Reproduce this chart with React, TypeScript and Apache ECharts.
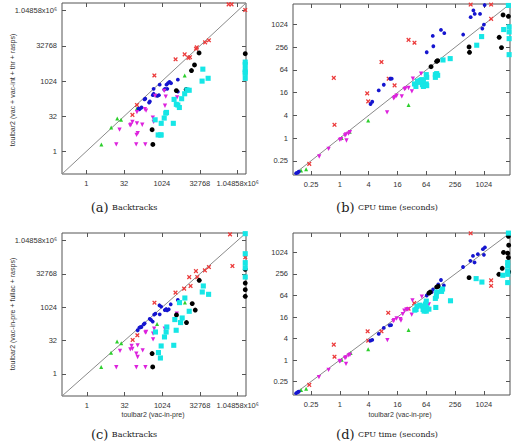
import React, { useEffect, useRef } from "react";
import * as echarts from "echarts";

// All values are log2 of the measured quantity (backtracks or CPU seconds), [x, y]
// Panel (a): backtracks, toulbar2 (vac-in-pre) vs (vac + vac-int + thr + rasps)
const aRed = [[18.8,20.9],[19.2,20.9],[21.0,20.1],[15.7,15.5],[16.2,15.8],[14.6,14.8],[14.5,14.6],[13.7,13.4],[13.5,13.3],[13.0,13.8],[11.8,13.1],[9.0,10.8],[6.7,6.6],[6.1,5.2]];
const aGreen = [[2.0,1.0],[3.3,3.4],[4.1,4.7],[4.6,4.5],[6.7,6.1],[9.3,8.0],[13.0,10.8]];
const aBlue = [[9.7,9.5],[8.9,8.9],[10.6,9.5],[10.8,9.7],[11.0,9.9],[11.2,9.7],[10.4,8.9],[10.3,8.8],[12.1,10.2],[8.9,8.2],[8.8,8.0],[9.6,8.0],[9.4,7.9],[12.1,8.5],[7.8,7.5],[7.7,7.4],[8.4,7.1],[8.3,6.95],[7.1,6.1],[7.0,6.0],[7.3,6.25],[10.7,8.9],[6.9,6.1]];
const aMagenta = [[7.75,6.0],[7.9,5.8],[8.8,4.8],[8.9,4.2],[10.3,8.6],[10.5,7.8],[10.4,6.5],[12.0,7.7],[6.7,4.0],[6.1,4.2],[5.9,3.8],[5.8,3.7],[4.4,3.1],[3.97,1.0],[6.6,1.0],[7.8,1.0],[6.65,2.35],[6.8,2.6],[7.4,3.8],[6.7,5.6],[9.1,7.9]];
const aBlack = [[14.9,14.0],[14.3,12.3],[13.9,11.5],[21.0,13.9],[11.9,8.65],[13.2,8.8],[8.7,3.1],[8.8,1.0]];
const aCyan = [[15.4,11.7],[15.3,10.0],[16.1,10.4],[21.0,12.7],[21.0,12.35],[21.0,11.65],[21.0,11.3],[21.0,11.1],[21.0,10.4],[13.6,8.7],[13.3,8.75],[13.0,8.2],[12.6,7.5],[11.6,7.4],[11.9,6.7],[12.1,6.6],[12.3,6.25],[10.6,5.55],[10.5,5.45],[10.3,4.75],[9.1,4.5],[9.9,4.0],[11.5,4.0],[9.5,2.35],[9.8,2.35],[9.9,2.35]];

// Panel (b): CPU time (seconds)
const bRed = [[9.08,11.76],[10.5,11.76],[10.5,10.5],[4.77,8.65],[5.18,8.4],[2.89,6.7],[-0.42,5.3],[-0.37,1.17],[1.9,3.94],[1.97,3.23],[3.39,5.23],[3.8,4.64],[-2.12,-2.27]];
const bGreen = [[-2.34,-2.74],[-2.69,-2.86],[0.13,0.0],[0.69,0.56],[1.97,1.55],[4.77,2.91]];
const bBlue = [[-3.03,-3.09],[-2.92,-3.04],[-2.85,-2.95],[2.13,3.0],[2.25,3.2],[2.7,4.2],[3.05,4.7],[3.5,5.23],[3.6,5.23],[6.03,7.56],[6.45,9.0],[6.49,8.09],[7.02,9.53],[7.25,9.24],[8.56,9.12],[9.08,10.65],[9.27,11.24],[9.36,10.94],[9.73,10.94],[10.05,11.72],[9.89,9.65],[10.0,10.0]];
const bMagenta = [[-1.43,-1.62],[-0.78,-0.95],[0.0,-0.15],[0.09,-0.09],[0.36,0.23],[0.43,0.32],[0.46,-0.21],[0.6,0.4],[0.7,0.53],[3.28,2.26],[3.74,3.5],[3.81,3.6],[3.94,3.73],[4.3,3.67],[4.49,4.32],[4.56,4.38],[4.77,4.41],[5.0,4.12],[5.07,5.23],[5.64,5.68]];
const bBlack = [[6.79,6.82],[6.72,6.76],[6.33,6.29],[8.97,8.03],[9.0,7.56],[11.06,8.88],[11.22,7.97],[11.33,10.85],[11.7,10.73]];
const bCyan = [[7.66,7.0],[7.16,6.88],[9.5,8.18],[9.84,8.94],[11.37,9.56],[11.75,9.8],[11.75,9.35],[11.75,8.76],[11.75,7.35],[11.7,11.68],[6.63,5.59],[6.72,5.68],[6.79,5.53],[6.63,5.35],[6.0,5.59],[6.03,5.35],[6.0,4.77],[6.03,4.62],[5.57,5.08],[5.69,5.15],[5.8,5.06],[5.39,5.0],[5.46,4.91],[5.18,4.77],[5.28,4.55],[5.73,4.7],[5.8,4.55]];

// Panel (c): backtracks, toulbar2 (vac-in-pre) vs (vac-in-pre + fullac + rasps)
const cRed = [[18.98,20.9],[19.3,16.16],[21.0,17.46],[16.18,16.0],[15.65,15.5],[14.46,15.4],[14.64,14.5],[13.57,14.5],[13.75,13.17],[12.9,12.77],[11.75,12.17],[8.96,10.67],[6.69,5.79],[6.07,5.09]];
const cGreen = [[1.9,1.05],[3.21,3.17],[4.0,4.87],[4.56,4.59],[9.31,7.48],[13.0,10.7]];
const cBlue = [[9.62,10.28],[9.85,10.08],[10.33,9.57],[10.51,9.72],[10.65,9.53],[10.86,9.68],[11.12,10.43],[12.06,11.07],[9.09,9.03],[8.92,8.89],[8.33,8.23],[8.51,8.08],[8.73,7.84],[7.66,7.58],[7.53,7.43],[7.09,6.99],[6.96,6.94],[7.23,7.03],[6.73,6.54],[9.66,8.93]];
const cMagenta = [[7.76,6.19],[7.85,6.28],[8.92,6.79],[8.78,6.04],[8.78,5.19],[10.33,6.79],[10.46,6.19],[11.92,9.03],[6.73,4.29],[5.93,4.19],[5.76,3.69],[6.03,3.74],[4.39,3.44],[3.9,1.0],[6.56,1.0],[7.76,1.0],[6.56,3.05],[6.73,2.54],[7.4,3.54]];
const cBlack = [[14.9,14.02],[13.97,10.53],[14.37,9.57],[11.88,8.83],[13.21,7.69],[8.65,3.05],[8.73,1.05],[21.0,15.66],[21.0,13.61],[21.0,12.62],[21.0,11.62]];
const cCyan = [[21.0,21.0],[21.0,18.0],[21.0,16.66],[21.0,15.9],[21.0,14.51],[15.44,13.17],[15.3,12.27],[16.14,11.92],[12.99,11.37],[12.28,10.68],[13.57,9.38],[12.64,8.38],[11.66,8.14],[12.42,7.69],[10.6,7.03],[10.51,6.28],[11.84,6.54],[9.09,6.28],[10.29,5.54],[9.85,4.19],[11.52,4.29],[9.49,3.2],[9.75,2.39]];

// Panel (d): CPU time (seconds)
const dRed = [[9.08,11.78],[10.5,7.41],[10.5,6.9],[5.16,5.29],[4.77,4.77],[3.36,4.39],[2.89,2.67],[1.93,2.67],[1.97,1.8],[-0.42,1.43],[-0.37,0.31],[-2.12,-2.31]];
const dGreen = [[-2.34,-2.68],[-2.69,-2.78],[0.13,0.03],[0.75,0.65],[1.97,1.0],[4.77,2.8]];
const dBlue = [[-3.03,-3.08],[-2.92,-2.99],[-2.85,-2.93],[2.13,1.8],[2.25,1.87],[2.7,2.43],[3.05,2.99],[3.46,3.23],[3.56,3.25],[6.03,6.0],[6.38,6.32],[6.47,6.57],[6.83,7.04],[7.02,7.44],[7.22,6.94],[8.55,8.65],[9.06,9.22],[9.24,9.68],[9.35,9.07],[9.58,9.84],[9.93,10.31],[10.07,10.47],[10.0,9.78]];
const dMagenta = [[-1.45,-1.59],[-0.78,-0.91],[-0.02,-0.13],[0.05,-0.07],[0.36,0.19],[0.43,0.24],[0.43,-0.35],[0.62,0.43],[0.71,0.5],[3.3,1.85],[3.71,3.61],[3.76,3.7],[3.94,3.86],[5.69,5.89],[5.04,5.54],[4.73,4.7],[4.62,4.7],[4.48,4.58],[4.37,4.27],[4.2,3.8],[4.24,3.67],[4.99,4.23],[6.18,5.17]];
const dBlack = [[6.18,6.22],[6.27,6.32],[6.72,6.79],[6.83,6.85],[8.97,7.66],[11.04,7.97],[11.27,8.53],[11.36,10.0],[11.65,9.93],[11.7,11.71],[11.7,11.5],[11.72,10.68],[11.72,8.19],[11.7,9.53]];
const dCyan = [[9.46,7.57],[9.86,7.25],[11.31,7.88],[11.65,9.07],[11.65,8.75],[11.65,8.28],[11.65,7.97],[11.65,7.2],[11.7,11.8],[7.06,6.38],[6.72,6.32],[7.13,6.6],[6.63,5.73],[6.7,5.94],[6.0,5.48],[7.68,5.51],[6.03,4.86],[5.73,5.02],[5.55,5.1],[5.35,4.98],[5.29,4.7],[5.2,4.64],[6.66,4.89],[6.18,4.73],[5.78,4.7],[5.85,4.55],[5.95,5.2],[6.0,4.55]];

// Tick positions (log2) and labels
const backtrackTicks = [0, 5, 10, 15, 20];
const backtrackLabels = ["1", "32", "1024", "32768", "1.04858x10\u2076"];
const timeTicks = [-2, 0, 2, 4, 6, 8, 10];
const timeLabels = ["0.25", "1", "4", "16", "64", "256", "1024"];

const yTitleA = "toulbar2 (vac + vac-int + thr + rasps)";
const yTitleC = "toulbar2 (vac-in-pre + fullac + rasps)";
const xTitle = "toulbar2 (vac-in-pre)";
const captions = [
  ["(a)", "Backtracks"],
  ["(b)", "CPU time (seconds)"],
  ["(c)", "Backtracks"],
  ["(d)", "CPU time (seconds)"],
];

const SANS = "Liberation Sans, Arial, sans-serif";
const COLORS = { red: "#ec3a3a", green: "#2ccf2c", blue: "#1515cf", magenta: "#dd22dd", black: "#000000", cyan: "#16e6e6" };
const SYMBOLS = {
  red: "path://M0,2L2,0L5,3L8,0L10,2L7,5L10,8L8,10L5,7L2,10L0,8L3,5Z",
  green: "triangle",
  blue: "circle",
  magenta: "path://M0,0L10,0L5,9Z",
  black: "circle",
  cyan: "rect",
};
const SIZES = { red: 4.6, green: 4, blue: 3.8, magenta: 4.3, black: 4.9, cyan: 5.1 };

export default function App() {
  const ref = useRef<HTMLDivElement>(null);
  useEffect(() => {
    if (!ref.current) return;
    const chart = echarts.init(ref.current, null, { renderer: "svg" });
    const panels = [
      { grid: { left: 62, top: 3, width: 184, height: 171 }, min: -3.2, max: 21.1, ticks: backtrackTicks, labels: backtrackLabels,
        data: { red: aRed, green: aGreen, blue: aBlue, magenta: aMagenta, black: aBlack, cyan: aCyan } },
      { grid: { left: 293, top: 4, width: 217, height: 171 }, min: -3.25, max: 11.81, ticks: timeTicks, labels: timeLabels,
        data: { red: bRed, green: bGreen, blue: bBlue, magenta: bMagenta, black: bBlack, cyan: bCyan } },
      { grid: { left: 62, top: 233, width: 184, height: 163 }, min: -3.3, max: 21.1, ticks: backtrackTicks, labels: backtrackLabels,
        data: { red: cRed, green: cGreen, blue: cBlue, magenta: cMagenta, black: cBlack, cyan: cCyan } },
      { grid: { left: 293, top: 233, width: 217, height: 162 }, min: -3.25, max: 11.81, ticks: timeTicks, labels: timeLabels,
        data: { red: dRed, green: dGreen, blue: dBlue, magenta: dMagenta, black: dBlack, cyan: dCyan } },
    ];
    const grids: any[] = [];
    const xAxes: any[] = [];
    const yAxes: any[] = [];
    const series: any[] = [];
    panels.forEach((p, i) => {
      grids.push({ ...p.grid, show: true, borderColor: "#555", borderWidth: 1, backgroundColor: "transparent" });
      const fmt = (v: number) => {
        const k = p.ticks.indexOf(Math.round(v));
        return k >= 0 ? p.labels[k] : "";
      };
      const base = (pos: string, showLabel: boolean) => ({
        type: "value", gridIndex: i, min: p.min, max: p.max, position: pos,
        axisLine: { show: false, onZero: false },
        splitLine: { show: false },
        axisTick: { show: true, inside: true, length: 4, customValues: p.ticks, lineStyle: { color: "#555", width: 1 } },
        axisLabel: { show: showLabel, customValues: p.ticks, formatter: fmt, fontFamily: SANS, fontSize: 7.5, color: "#333", margin: 5 },
      });
      xAxes.push(base("bottom", true));
      xAxes.push(base("top", false));
      yAxes.push(base("left", true));
      yAxes.push(base("right", false));
      const xi = i * 2;
      series.push({
        type: "line", xAxisIndex: xi, yAxisIndex: xi, data: [[p.min, p.min], [p.max, p.max]],
        symbol: "none", silent: true, lineStyle: { color: "#8a8a8a", width: 1 }, z: 1,
      });
      (Object.keys(p.data) as (keyof typeof COLORS)[]).forEach((k) => {
        series.push({
          type: "scatter", xAxisIndex: xi, yAxisIndex: xi, data: (p.data as any)[k],
          symbol: SYMBOLS[k], symbolSize: SIZES[k], itemStyle: { color: COLORS[k], opacity: 1 }, z: 2,
        });
      });
    });
    const capPos = [[124, 207], [387, 207], [124, 434], [387, 434]];
    const graphic: any[] = [
      { type: "text", x: 12, y: 90, rotation: Math.PI / 2, style: { text: yTitleA, font: `7px ${SANS}`, fill: "#333", align: "center", verticalAlign: "middle" } },
      { type: "text", x: 12, y: 314, rotation: Math.PI / 2, style: { text: yTitleC, font: `7px ${SANS}`, fill: "#333", align: "center", verticalAlign: "middle" } },
      { type: "text", x: 153, y: 414, style: { text: xTitle, font: `7px ${SANS}`, fill: "#333", align: "center", verticalAlign: "middle" } },
      { type: "text", x: 400, y: 414, style: { text: xTitle, font: `7px ${SANS}`, fill: "#333", align: "center", verticalAlign: "middle" } },
    ];
    captions.forEach((c, i) => {
      graphic.push({
        type: "text", x: capPos[i][0], y: capPos[i][1],
        style: {
          text: `{p|${c[0]}} {t|${c[1]}}`, align: "center", verticalAlign: "middle", fill: "#222",
          rich: {
            p: { fontFamily: "DejaVu Serif, serif", fontSize: 13, fill: "#222" },
            t: { fontFamily: "DejaVu Serif, serif", fontSize: 8, fill: "#222" },
          },
        },
      });
    });
    chart.setOption({
      animation: false,
      backgroundColor: "#ffffff",
      grid: grids,
      xAxis: xAxes,
      yAxis: yAxes,
      series,
      graphic,
    });
    return () => chart.dispose();
  }, []);
  return (
    <div ref={ref} style={{ position: "absolute", left: 0, top: 0, width: 514, height: 442, background: "#fff" }} />
  );
}
